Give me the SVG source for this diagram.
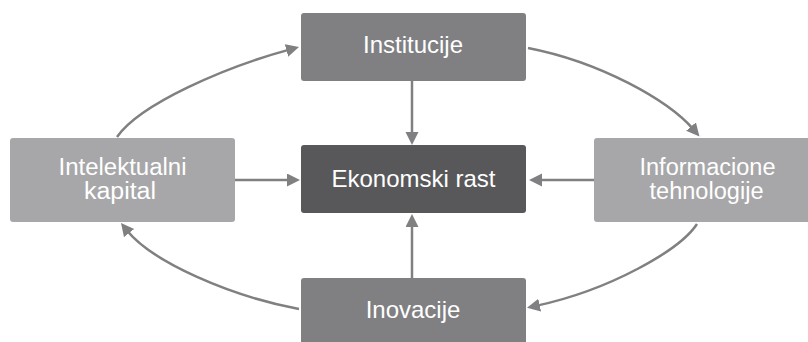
<svg xmlns="http://www.w3.org/2000/svg" width="808" height="342" viewBox="0 0 808 342">
  <style>
    .mid { fill: #808083; }
    .core { fill: #58585a; }
    .side { fill: #a7a7a9; }
    .lbl { font-family: "Liberation Sans", Arial, sans-serif; font-size: 24px; fill: #ffffff; text-anchor: middle; }
    .lbl2 { font-family: "Liberation Sans", Arial, sans-serif; font-size: 23px; fill: #ffffff; text-anchor: middle; }
    .conn { fill: none; stroke: #808083; stroke-width: 2.5; }
  </style>
  <defs>
    <marker id="ah" markerUnits="userSpaceOnUse" markerWidth="14" markerHeight="14" refX="4" refY="6.5" orient="auto">
      <path d="M0,0 L13,6.5 L0,13 z" fill="#808083"/>
    </marker>
  </defs>
  <rect width="808" height="342" fill="#ffffff"/>

  <g id="connectors">
    <path class="conn" d="M412,81 L412,136" marker-end="url(#ah)"/>
    <path class="conn" d="M412,278 L412,223" marker-end="url(#ah)"/>
    <path class="conn" d="M235,180 L291,180" marker-end="url(#ah)"/>
    <path class="conn" d="M594,180 L538,180" marker-end="url(#ah)"/>
    <path class="conn" d="M117,137 C140,104 225,67 290.3,49.4" marker-end="url(#ah)"/>
    <path class="conn" d="M528,48 C600,62 668,100 693.6,129.6" marker-end="url(#ah)"/>
    <path class="conn" d="M697,224 C680,250 610,290 535.8,305.9" marker-end="url(#ah)"/>
    <path class="conn" d="M299,309 C230,296 152,262 126.6,230" marker-end="url(#ah)"/>
  </g>

  <g id="institucije">
    <rect class="mid" x="301" y="13" width="225" height="68" rx="3"/>
    <text class="lbl" x="413" y="53">Institucije</text>
  </g>
  <g id="ekonomski-rast">
    <rect class="core" x="301" y="145" width="225" height="68" rx="3"/>
    <text class="lbl" x="413.5" y="187">Ekonomski rast</text>
  </g>
  <g id="intelektualni-kapital">
    <rect class="side" x="10" y="138" width="225" height="84" rx="3"/>
    <text class="lbl2" x="122.5" y="175" textLength="128" lengthAdjust="spacingAndGlyphs">Intelektualni</text>
    <text class="lbl2" x="120" y="199" textLength="72" lengthAdjust="spacingAndGlyphs">kapital</text>
  </g>
  <g id="informacione-tehnologije">
    <rect class="side" x="594" y="138" width="225" height="84" rx="3"/>
    <text class="lbl2" x="707.5" y="175" textLength="136" lengthAdjust="spacingAndGlyphs">Informacione</text>
    <text class="lbl2" x="706.5" y="199" textLength="114" lengthAdjust="spacingAndGlyphs">tehnologije</text>
  </g>
  <g id="inovacije">
    <rect class="mid" x="301" y="278" width="225" height="68" rx="3"/>
    <text class="lbl" x="413" y="318">Inovacije</text>
  </g>
</svg>
